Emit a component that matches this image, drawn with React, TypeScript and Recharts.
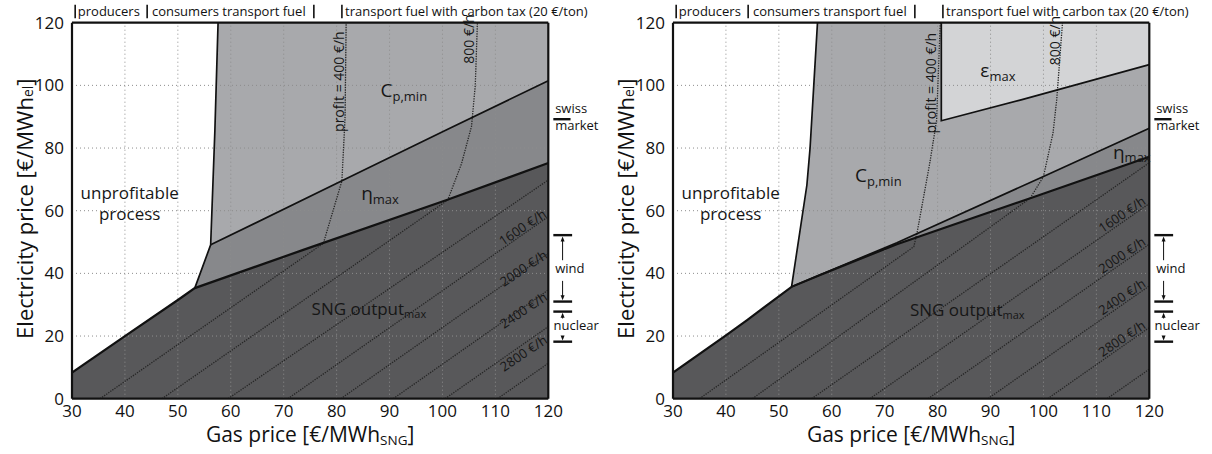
import React from "react";
import {
  ComposedChart,
  Area,
  Line,
  XAxis,
  YAxis,
  ReferenceLine,
  ReferenceDot,
  Label,
} from "recharts";

type Pt = { x: number; y: number };
const pts = (a: number[][]): Pt[] => a.map(([x, y]) => ({ x, y }));

const xTicks = [30, 40, 50, 60, 70, 80, 90, 100, 110, 120];
const yTicks = [0, 20, 40, 60, 80, 100, 120];
const xGrid = [40, 50, 60, 70, 80, 90, 100, 110];
const yGrid = [20, 40, 60, 80, 100];

// market markers above the plot (gas price) and at the right (electricity price)
const gasMarkers = [30.6, 44.2, 75.7, 81.0];
const gasMarkerLabels = ["producers", "consumers transport fuel", "transport fuel with carbon tax (20 €/ton)"];
const gasMarkerLabelX = [31.1, 45.1, 81.6];
const swissMarket = 89.2;
const windRange = [52.2, 31.0];
const nuclearRange = [27.8, 18.2];

// ---- left panel
const leftLower = pts([[30, 8.3], [40, 20.0], [50, 31.5], [53.2, 35.3], [73.7, 47.5], [100.8, 63.4], [120, 75.2]]);
const leftEta = pts([[56.2, 49.1], [81.3, 69.8], [100.8, 85.8], [120, 101.5]]);
const leftEdge = pts([[53.2, 35.3], [56.2, 49.1], [57.0, 85.7], [57.6, 120]]);
const leftProfit400 = pts([[35.3, 0], [77.5, 49.6], [81.0, 69.5], [81.6, 90], [81.8, 120]]);
const leftProfit800 = pts([[47.0, 0], [101.0, 63.4], [103.6, 75], [105.5, 87], [106.2, 100], [106.6, 120]]);
const leftDiagStart = [59.5, 70.8, 80.8, 90.7, 100.5, 110.4];
const leftDiagEnd = [69.8, 58.1, 46.4, 34.7, 23.0, 11.3];

// ---- right panel
const rightLower = pts([[30, 8.3], [40, 20.2], [44, 25.1], [52.4, 35.7], [57.8, 39.5], [72.3, 49.3], [97.5, 64.0], [120, 77.2]]);
const rightEta = pts([[52.4, 35.7], [72.3, 49.8], [100, 70.9], [120, 86.3]]);
const rightEdge = pts([[52.4, 35.7], [55.3, 68.2], [55.9, 80], [56.6, 100], [57.3, 120]]);
const rightEpsLow = pts([[80.7, 88.7], [95.6, 95.3], [120, 106.6]]);
const rightProfit400 = pts([[35.0, 0], [75.5, 48.5], [76.1, 52.8], [78.5, 75], [79.8, 88.7], [80.5, 120]]);
const rightProfit800 = pts([[45.0, 0], [97.5, 64.0], [100, 70.9], [101.8, 84.7], [102.5, 95.3], [103.6, 120]]);
const rightDiagStart = [56.2, 67.2, 78.2, 89.5, 100.8, 112.0];
const rightDiagEnd = [75.3, 62.3, 49.3, 36.0, 22.7, 9.4];

type Note = { x: number; y: number; text: string; sub?: string; kind: string };

const leftNotes: Note[] = [
  { x: 40.9, y: 66.1, text: "unprofitable", kind: "mid" },
  { x: 40.9, y: 59.2, text: "process", kind: "mid" },
  { x: 92.7, y: 98.5, text: "C", sub: "p,min", kind: "big" },
  { x: 88.2, y: 65.6, text: "η", sub: "max", kind: "big" },
  { x: 86.1, y: 28.9, text: "SNG output", sub: "max", kind: "mid" },
  { x: 80.2, y: 101.2, text: "profit = 400 €/h", kind: "vert" },
  { x: 104.9, y: 114.8, text: "800 €/h", kind: "vert" },
  { x: 115.1, y: 54.8, text: "1600 €/h", kind: "diag" },
  { x: 115.3, y: 41.7, text: "2000 €/h", kind: "diag" },
  { x: 115.3, y: 28.3, text: "2400 €/h", kind: "diag" },
  { x: 115.3, y: 14.6, text: "2800 €/h", kind: "diag" },
];

const rightNotes: Note[] = [
  { x: 40.9, y: 66.1, text: "unprofitable", kind: "mid" },
  { x: 40.9, y: 59.2, text: "process", kind: "mid" },
  { x: 91.4, y: 104.9, text: "ε", sub: "max", kind: "big" },
  { x: 68.8, y: 71.4, text: "C", sub: "p,min", kind: "big" },
  { x: 116.7, y: 78.8, text: "η", sub: "max", kind: "big" },
  { x: 85.6, y: 28.7, text: "SNG output", sub: "max", kind: "mid" },
  { x: 78.5, y: 100.7, text: "profit = 400 €/h", kind: "vert" },
  { x: 102.0, y: 114.3, text: "800 €/h", kind: "vert" },
  { x: 114.8, y: 58.9, text: "1600 €/h", kind: "diag" },
  { x: 114.8, y: 45.9, text: "2000 €/h", kind: "diag" },
  { x: 114.8, y: 32.6, text: "2400 €/h", kind: "diag" },
  { x: 114.8, y: 19.3, text: "2800 €/h", kind: "diag" },
];

const FONT = "'Open Sans', 'Noto Sans', sans-serif";
const LIGHT = "#a8a9ac";
const EPS = "#d3d4d6";
const MID = "#87888b";
const DARK = "#58585a";

const sizes: Record<string, number> = { big: 19, mid: 17, vert: 14, diag: 13, side: 13 };

function renderNote(n: Note) {
  return (p: any) => {
    const cx = p.cx;
    const cy = p.cy;
    const size = sizes[n.kind] ?? 13;
    const subSize = Math.round(size * 0.66);
    let transform: string | undefined;
    if (n.kind === "vert") transform = `rotate(-90 ${cx} ${cy})`;
    if (n.kind === "diag") transform = `rotate(-34 ${cx} ${cy})`;
    return (
      <text
        x={cx}
        y={cy}
        transform={transform}
        textAnchor="middle"
        dominantBaseline="central"
        fontFamily={FONT}
        fontSize={size}
        fill="#161616"
      >
        <tspan>{n.text}</tspan>
        {n.sub ? (
          <tspan fontSize={subSize} dy={size * 0.3}>
            {n.sub}
          </tspan>
        ) : null}
      </text>
    );
  };
}

function plainText(text: string, size: number) {
  return (p: any) => (
    <text x={p.cx} y={p.cy} fontFamily={FONT} fontSize={size} fill="#111">
      {text}
    </text>
  );
}

function arrow(up: boolean) {
  return (p: any) => {
    const { cx, cy } = p;
    const d = up ? 5 : -5;
    return <polygon points={`${cx},${cy} ${cx - 2},${cy + d} ${cx + 2},${cy + d}`} fill="#111" />;
  };
}

function XTitle(p: any) {
  const vb = p.viewBox ?? { x: 72, y: 399, width: 476, height: 30 };
  const cx = vb.x + vb.width / 2;
  return (
    <text x={cx} y={vb.y + 43} textAnchor="middle" fontFamily={FONT} fontSize={21} fill="#111">
      <tspan>Gas price [€/MWh</tspan>
      <tspan fontSize={13.5} dy={3}>SNG</tspan>
      <tspan dy={-3}>]</tspan>
    </text>
  );
}

function YTitle(p: any) {
  const vb = p.viewBox ?? { x: 12, y: 23, width: 60, height: 376 };
  const x = vb.x + 12;
  const y = vb.y + vb.height / 2 - 2;
  return (
    <text
      x={x}
      y={y}
      transform={`rotate(-90 ${x} ${y})`}
      textAnchor="middle"
      dominantBaseline="central"
      fontFamily={FONT}
      fontSize={22}
      fill="#111"
    >
      <tspan>Electricity price [€/MWh</tspan>
      <tspan fontSize={14} dy={3}>el</tspan>
      <tspan dy={-3}>]</tspan>
    </text>
  );
}

type PanelProps = {
  lower: Pt[];
  eta: Pt[];
  edge: Pt[];
  epsLow?: Pt[];
  profit400: Pt[];
  profit800: Pt[];
  diagStart: number[];
  diagEnd: number[];
  notes: Note[];
  left: number;
};

function Panel(props: PanelProps) {
  const { lower, eta, edge, epsLow, profit400, profit800, diagStart, diagEnd, notes, left } = props;
  const cpArea = [...edge, { x: 120, y: 120 }];
  const midArea = [lower.find((p) => p.x === edge[0].x) ?? edge[0], ...eta.filter((p) => p.x > edge[0].x)];
  const epsArea = epsLow ? epsLow.map((p) => ({ x: p.x, y: [p.y, 120] })) : null;
  const epsBorder = epsLow ? [{ x: epsLow[0].x, y: 120 }, ...epsLow] : null;
  const tick = { fill: "#111", fontSize: 17, fontFamily: FONT };
  const dotted = { stroke: "#262626", strokeWidth: 1.3, strokeDasharray: "1.3 1.2" };

  return (
    <div style={{ position: "absolute", left, top: 0 }}>
      <ComposedChart width={606} height={454} margin={{ top: 22.7, right: 57.7, bottom: 25.3, left: 12 }}>
        <XAxis
          type="number"
          dataKey="x"
          domain={[30, 120]}
          ticks={xTicks}
          interval={0}
          allowDataOverflow
          axisLine={false}
          tickLine={false}
          tickSize={0}
          tickMargin={6}
          height={30}
          tick={tick}
        >
          <Label content={XTitle} />
        </XAxis>
        <YAxis
          type="number"
          domain={[0, 120]}
          ticks={yTicks}
          interval={0}
          allowDataOverflow
          axisLine={false}
          tickLine={false}
          tickSize={0}
          tickMargin={8}
          width={60}
          tick={tick}
        >
          <Label content={YTitle} />
        </YAxis>

        <Area data={cpArea} dataKey="y" type="linear" fill={LIGHT} fillOpacity={1} stroke="none" dot={false} activeDot={false} isAnimationActive={false} />
        {epsArea && (
          <Area data={epsArea} dataKey="y" type="linear" fill={EPS} fillOpacity={1} stroke="none" dot={false} activeDot={false} isAnimationActive={false} />
        )}
        <Area data={midArea} dataKey="y" type="linear" fill={MID} fillOpacity={1} stroke="none" dot={false} activeDot={false} isAnimationActive={false} />
        <Area data={lower} dataKey="y" type="linear" fill={DARK} fillOpacity={1} stroke="none" dot={false} activeDot={false} isAnimationActive={false} />

        {xGrid.map((v) => (
          <ReferenceLine key={`gx${v}`} x={v} stroke="#8d8d8d" strokeDasharray="1 3" strokeWidth={1} />
        ))}
        {yGrid.map((v) => (
          <ReferenceLine key={`gy${v}`} y={v} stroke="#8d8d8d" strokeDasharray="1 3" strokeWidth={1} />
        ))}

        <Line data={profit400} dataKey="y" type="linear" dot={false} activeDot={false} isAnimationActive={false} {...dotted} />
        <Line data={profit800} dataKey="y" type="linear" dot={false} activeDot={false} isAnimationActive={false} {...dotted} />
        {diagStart.map((s, i) => (
          <Line
            key={`d${i}`}
            data={[{ x: s, y: 0 }, { x: 120, y: diagEnd[i] }]}
            dataKey="y"
            type="linear"
            dot={false}
            activeDot={false}
            isAnimationActive={false}
            {...dotted}
          />
        ))}

        <Line data={edge} dataKey="y" type="linear" stroke="#111" strokeWidth={1.7} dot={false} activeDot={false} isAnimationActive={false} />
        <Line data={eta} dataKey="y" type="linear" stroke="#111" strokeWidth={1.7} dot={false} activeDot={false} isAnimationActive={false} />
        {epsBorder && (
          <Line data={epsBorder} dataKey="y" type="linear" stroke="#111" strokeWidth={1.7} dot={false} activeDot={false} isAnimationActive={false} />
        )}
        <Line data={lower} dataKey="y" type="linear" stroke="#111" strokeWidth={2.2} dot={false} activeDot={false} isAnimationActive={false} />

        {/* frame */}
        <ReferenceLine x={30} stroke="#111" strokeWidth={2.2} />
        <ReferenceLine x={120} stroke="#111" strokeWidth={2.2} />
        <ReferenceLine y={0} stroke="#111" strokeWidth={2.2} />
        <ReferenceLine y={120} stroke="#111" strokeWidth={2.2} />

        {/* markers above the plot */}
        {gasMarkers.map((g) => (
          <ReferenceLine key={`gm${g}`} segment={[{ x: g, y: 121.4 }, { x: g, y: 125.7 }]} ifOverflow="visible" stroke="#111" strokeWidth={1.6} />
        ))}
        {gasMarkerLabels.map((t, i) => (
          <ReferenceDot key={`gl${i}`} x={gasMarkerLabelX[i]} y={122.2} r={0} ifOverflow="visible" shape={plainText(t, 13)} />
        ))}

        {/* markers to the right of the plot */}
        <ReferenceLine segment={[{ x: 120.95, y: swissMarket }, { x: 124.2, y: swissMarket }]} ifOverflow="visible" stroke="#111" strokeWidth={2.4} />
        <ReferenceDot x={121.3} y={91.1} r={0} ifOverflow="visible" shape={plainText("swiss", 13)} />
        <ReferenceDot x={121.3} y={85.8} r={0} ifOverflow="visible" shape={plainText("market", 13)} />

        {[...windRange, ...nuclearRange].map((v) => (
          <ReferenceLine key={`sb${v}`} segment={[{ x: 120.95, y: v }, { x: 124.5, y: v }]} ifOverflow="visible" stroke="#111" strokeWidth={2.4} />
        ))}
        <ReferenceLine segment={[{ x: 122.7, y: windRange[0] - 1.2 }, { x: 122.7, y: 44.2 }]} ifOverflow="visible" stroke="#111" strokeWidth={1} />
        <ReferenceLine segment={[{ x: 122.7, y: 37.6 }, { x: 122.7, y: windRange[1] + 1.2 }]} ifOverflow="visible" stroke="#111" strokeWidth={1} />
        <ReferenceDot x={122.7} y={windRange[0] - 0.4} r={0} ifOverflow="visible" shape={arrow(true)} />
        <ReferenceDot x={122.7} y={windRange[1] + 0.4} r={0} ifOverflow="visible" shape={arrow(false)} />
        <ReferenceDot x={121.3} y={40.0} r={0} ifOverflow="visible" shape={plainText("wind", 13)} />

        <ReferenceLine segment={[{ x: 122.7, y: nuclearRange[0] - 1 }, { x: 122.7, y: 25.6 }]} ifOverflow="visible" stroke="#111" strokeWidth={1} />
        <ReferenceLine segment={[{ x: 122.7, y: 20.0 }, { x: 122.7, y: nuclearRange[1] + 1 }]} ifOverflow="visible" stroke="#111" strokeWidth={1} />
        <ReferenceDot x={122.7} y={nuclearRange[0] - 0.4} r={0} ifOverflow="visible" shape={arrow(true)} />
        <ReferenceDot x={122.7} y={nuclearRange[1] + 0.4} r={0} ifOverflow="visible" shape={arrow(false)} />
        <ReferenceDot x={121.0} y={21.9} r={0} ifOverflow="visible" shape={plainText("nuclear", 13)} />

        {notes.map((n, i) => (
          <ReferenceDot key={`n${i}`} x={n.x} y={n.y} r={0} ifOverflow="visible" shape={renderNote(n)} />
        ))}
      </ComposedChart>
    </div>
  );
}

export default function App() {
  return (
    <div style={{ position: "absolute", left: 0, top: 0, width: 1212, height: 454, background: "#fff", fontFamily: FONT }}>
      <Panel
        lower={leftLower}
        eta={leftEta}
        edge={leftEdge}
        profit400={leftProfit400}
        profit800={leftProfit800}
        diagStart={leftDiagStart}
        diagEnd={leftDiagEnd}
        notes={leftNotes}
        left={0}
      />
      <Panel
        lower={rightLower}
        eta={rightEta}
        edge={rightEdge}
        epsLow={rightEpsLow}
        profit400={rightProfit400}
        profit800={rightProfit800}
        diagStart={rightDiagStart}
        diagEnd={rightDiagEnd}
        notes={rightNotes}
        left={600.7}
      />
    </div>
  );
}
